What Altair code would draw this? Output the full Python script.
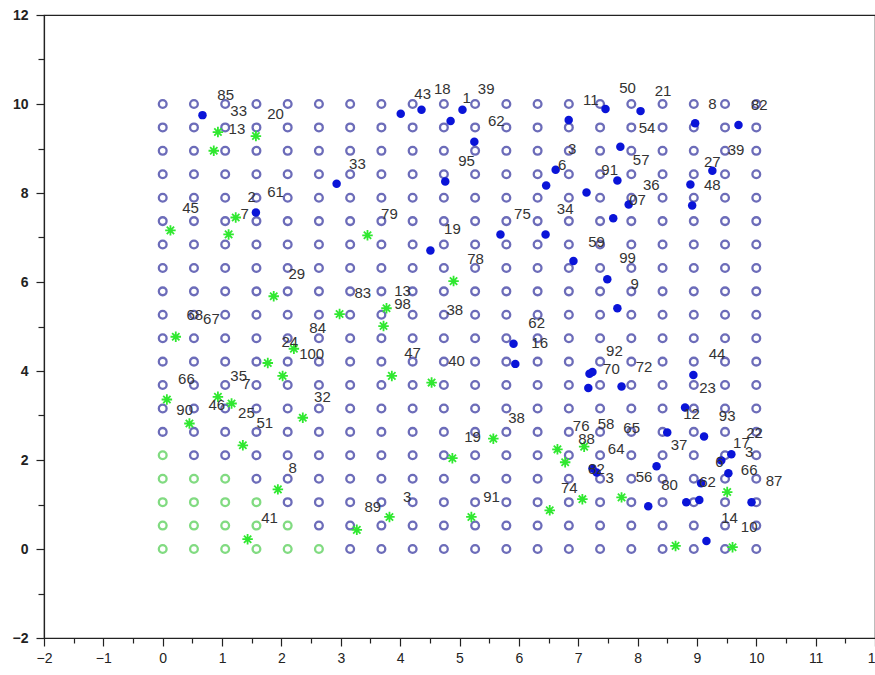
import altair as alt
import numpy as np
import pandas as pd

# ---- lattice of candidate sites: 20 x 20 on [0, 10] ----
N_SIDE = 20
lattice = np.linspace(0, 10, N_SIDE)
# number of covered (green) sites in each of the lowest rows, counted from the left
covered_per_row = [6, 5, 4, 3, 1]

# ---- filled blue points ----
blue_x = [0.67, 4.01, 4.36, 4.85, 5.05, 5.25, 4.76, 6.84, 6.62, 6.46, 7.14, 4.51, 5.69,
          6.45, 6.92, 2.93, 1.57, 7.46, 8.05, 8.97, 9.70, 7.71, 7.66, 9.26, 8.89, 7.85,
          8.92, 7.59, 7.49, 7.66, 5.91, 5.94, 7.19, 7.24, 7.17, 7.73, 8.94, 8.80, 8.50,
          9.12, 8.32, 7.24, 9.58, 9.41, 9.53, 9.07, 8.18, 8.82, 9.04, 9.92, 9.16, 7.31]
blue_y = [9.75, 9.78, 9.87, 9.62, 9.87, 9.15, 8.26, 9.64, 8.52, 8.17, 8.01, 6.71, 7.07,
          7.07, 6.47, 8.21, 7.56, 9.89, 9.84, 9.57, 9.53, 9.04, 8.28, 8.50, 8.19, 7.74,
          7.72, 7.43, 6.06, 5.41, 4.61, 4.16, 3.94, 3.98, 3.62, 3.65, 3.91, 3.18, 2.62,
          2.53, 1.86, 1.81, 2.13, 1.99, 1.70, 1.48, 0.96, 1.05, 1.10, 1.05, 0.18, 1.72]

# ---- green star points ----
star_x = [0.93, 0.86, 1.57, 1.23, 1.11, 0.13, 3.45, 1.87, 2.98, 3.77, 3.72, 0.22, 2.21,
          1.77, 2.02, 3.86, 4.53, 0.07, 0.93, 1.16, 2.36, 0.45, 1.35, 1.94, 3.82, 3.27,
          1.43, 4.90, 5.57, 4.88, 6.65, 6.78, 7.10, 5.20, 6.52, 7.07, 7.73, 9.51, 8.64, 9.60]
star_y = [9.37, 8.95, 9.28, 7.45, 7.07, 7.16, 7.05, 5.68, 5.28, 5.41, 5.01, 4.77, 4.50,
          4.18, 3.89, 3.89, 3.74, 3.36, 3.42, 3.27, 2.95, 2.82, 2.33, 1.34, 0.72, 0.43,
          0.22, 6.02, 2.48, 2.04, 2.24, 1.95, 2.30, 0.72, 0.87, 1.12, 1.16, 1.28, 0.07, 0.04]

# ---- point numbers ----
label_text = ["85", "33", "20", "13", "33", "2", "61", "45", "7", "79",
              "43", "18", "1", "39", "62", "95", "3", "6", "75", "34",
              "19", "78", "11", "50", "21", "8", "82", "54", "57", "39",
              "27", "91", "36", "48", "07", "59", "99", "9", "29", "83",
              "13", "98", "68", "67", "84", "24", "100", "66", "35", "7",
              "46", "90", "25", "32", "51", "38", "62", "16", "47", "40",
              "38", "92", "70", "72", "44", "23", "12", "93", "76", "58",
              "65", "88", "19", "17", "22", "37", "64", "3", "6", "66",
              "87", "62", "82", "3", "56", "80", "74", "14", "10", "8",
              "89", "41", "3", "91"]
label_x = [1.06, 1.28, 1.90, 1.25, 3.28, 1.50, 1.90, 0.47, 1.38, 3.82,
           4.38, 4.71, 5.12, 5.45, 5.62, 5.12, 6.90, 6.73, 6.06, 6.78,
           4.88, 5.27, 7.21, 7.83, 8.43, 9.26, 10.05, 8.16, 8.06, 9.66,
           9.26, 7.53, 8.23, 9.26, 8.00, 7.31, 7.83, 7.95, 2.26, 3.37,
           4.04, 4.04, 0.54, 0.82, 2.61, 2.14, 2.51, 0.40, 1.28, 1.41,
           0.91, 0.37, 1.41, 2.69, 1.72, 4.92, 6.30, 6.35, 4.21, 4.95,
           5.96, 7.61, 7.56, 8.11, 9.34, 9.18, 8.91, 9.51, 7.05, 7.47,
           7.90, 7.14, 5.22, 9.75, 9.97, 8.70, 7.64, 9.88, 9.38, 9.88,
           10.30, 9.18, 7.31, 7.53, 8.11, 8.54, 6.85, 9.55, 9.88, 2.19,
           3.54, 1.80, 4.12, 5.54]
label_y = [10.20, 9.84, 9.78, 9.44, 8.66, 7.90, 8.03, 7.67, 7.52, 7.52,
           10.22, 10.34, 10.13, 10.34, 9.62, 8.72, 8.99, 8.64, 7.52, 7.65,
           7.18, 6.51, 10.09, 10.36, 10.29, 10.00, 9.98, 9.46, 8.75, 8.97,
           8.70, 8.52, 8.19, 8.19, 7.85, 6.91, 6.55, 5.95, 6.17, 5.75,
           5.79, 5.50, 5.26, 5.17, 4.97, 4.65, 4.38, 3.83, 3.89, 3.71,
           3.24, 3.13, 3.06, 3.42, 2.84, 5.37, 5.08, 4.63, 4.41, 4.23,
           2.95, 4.45, 4.05, 4.09, 4.38, 3.62, 3.04, 3.00, 2.77, 2.82,
           2.73, 2.48, 2.51, 2.39, 2.60, 2.33, 2.24, 2.17, 1.95, 1.77,
           1.52, 1.50, 1.79, 1.59, 1.61, 1.43, 1.36, 0.69, 0.49, 1.81,
           0.94, 0.69, 1.16, 1.16]

X_MAJOR = list(range(-2, 13))
X_MINOR = [v + 0.5 for v in range(-2, 12)]
Y_MAJOR = list(range(-2, 13, 2))
Y_MINOR = list(range(-1, 12, 2))

# ---- tables ----
rows = []
for i, yv in enumerate(lattice):
    n_green = covered_per_row[i] if i < len(covered_per_row) else 0
    for j, xv in enumerate(lattice):
        rows.append({"x": xv, "y": yv, "state": "covered" if j < n_green else "open"})
grid_df = pd.DataFrame(rows)
blue_df = pd.DataFrame({"x": blue_x, "y": blue_y})
star_df = pd.DataFrame({"x": star_x, "y": star_y})
label_df = pd.DataFrame({"x": label_x, "y": label_y, "t": label_text})

xs = alt.Scale(domain=[-2, 12], nice=False, zero=False)
ys = alt.Scale(domain=[-2, 12], nice=False, zero=False)

FONT = "Liberation Sans"
INK = "#222222"

major_x_axis = alt.Axis(values=X_MAJOR, tickSize=8, labelFontSize=14, labelPadding=5,
                        grid=False, title=None, orient="bottom", labelFlush=False)
major_y_axis = alt.Axis(values=Y_MAJOR, tickSize=8, labelFontSize=14, labelPadding=8,
                        grid=False, title=None, orient="left", labelFontWeight="bold")
minor_x_axis = alt.Axis(values=X_MINOR, tickSize=5, labels=False, domain=False,
                        grid=False, title=None, orient="bottom")
minor_y_axis = alt.Axis(values=Y_MINOR, tickSize=6, labels=False, domain=False,
                        grid=False, title=None, orient="left")

grid_layer = alt.Chart(grid_df).mark_point(
    shape="circle", filled=False, size=60, strokeWidth=2.3
).encode(
    x=alt.X("x:Q", scale=xs, axis=major_x_axis),
    y=alt.Y("y:Q", scale=ys, axis=major_y_axis),
    color=alt.Color("state:N",
                    scale=alt.Scale(domain=["open", "covered"], range=["#2e2e9c", "#4ccc4c"]),
                    legend=None),
)

minor_layer = alt.Chart(grid_df).mark_point(opacity=0).encode(
    x=alt.X("x:Q", scale=xs, axis=minor_x_axis),
    y=alt.Y("y:Q", scale=ys, axis=minor_y_axis),
)

blue_layer = alt.Chart(blue_df).mark_point(
    shape="circle", filled=True, size=72, color="#0a14d8", opacity=1
).encode(
    x=alt.X("x:Q", scale=xs, axis=None),
    y=alt.Y("y:Q", scale=ys, axis=None),
)

# eight-armed asterisk drawn as strokes only
ASTERISK = "M -1 0 L 1 0 M 0 -1 L 0 1 M -0.7 -0.7 L 0.7 0.7 M -0.7 0.7 L 0.7 -0.7"
star_layer = alt.Chart(star_df).mark_point(
    shape=ASTERISK, filled=False, fill="transparent", size=110, strokeWidth=1.8,
    color="#30e830", opacity=1
).encode(
    x=alt.X("x:Q", scale=xs, axis=None),
    y=alt.Y("y:Q", scale=ys, axis=None),
)

text_layer = alt.Chart(label_df).mark_text(
    font=FONT, fontSize=15, color="#333333", align="center", baseline="middle"
).encode(
    x=alt.X("x:Q", scale=xs, axis=None),
    y=alt.Y("y:Q", scale=ys, axis=None),
    text="t:N",
)

chart = alt.layer(
    grid_layer, minor_layer, blue_layer, star_layer, text_layer
).resolve_axis(
    x="independent", y="independent"
).properties(
    width=831,
    height=623,
    padding={"left": 44, "top": 15, "right": 0, "bottom": 37},
    autosize=alt.AutoSizeParams(type="none"),
    background="white",
).configure_view(
    stroke=INK, strokeWidth=1.2
).configure_axis(
    labelFont=FONT, labelColor=INK, domainColor=INK, tickColor=INK,
    domainWidth=1.2, tickWidth=1.2
)

chart.save("out.html", embed_options={"renderer": "svg", "actions": False})
